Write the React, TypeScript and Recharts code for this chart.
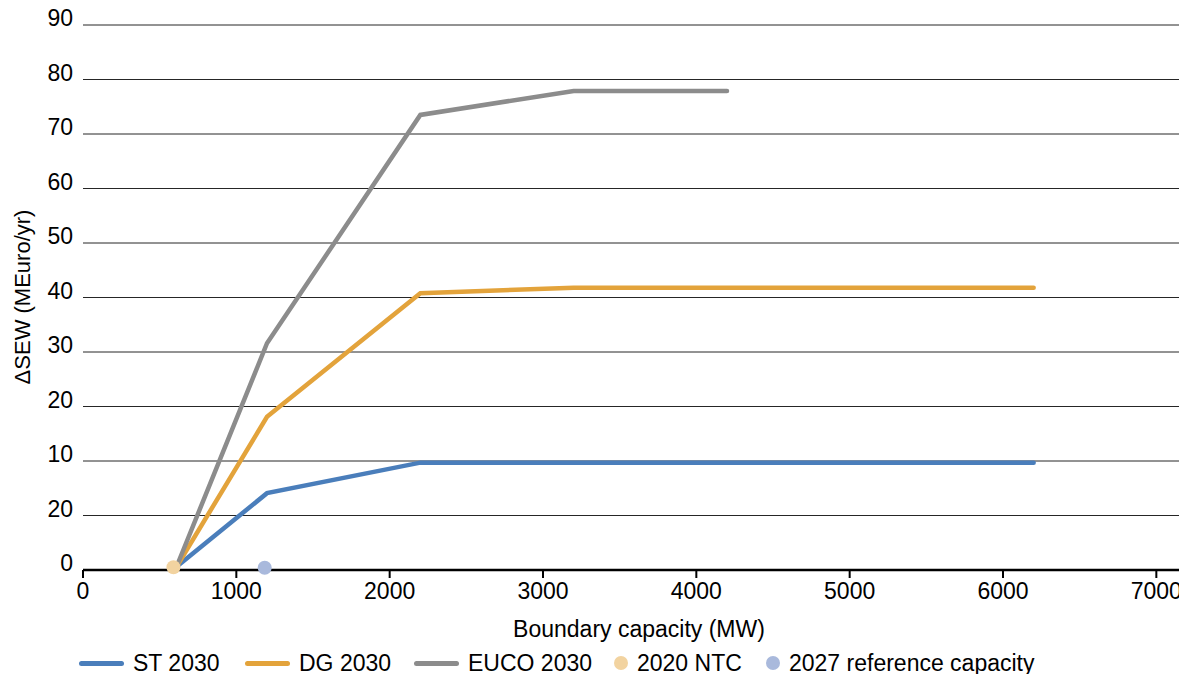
import React from 'react'
import { CartesianGrid, ComposedChart, Legend, Line, Scatter, XAxis, YAxis } from 'recharts'

// values
const capacityMW = [610, 1200, 2200, 3200, 4200, 6200]
const st2030 = [-9.4, 4.1, 9.7, 9.7, 9.7, 9.7]
const dg2030 = [-9.4, 18.1, 40.8, 41.8, 41.8, 41.8]
const euco2030 = [-9.4, 31.6, 73.5, 77.9, 77.9]

const ntcCapacity = [590]
const ntcValue = [-9.5]
const refCapacity = [1185]
const refValue = [-9.6]

const xTicks = [0, 1000, 2000, 3000, 4000, 5000, 6000, 7000]
const yTicks = [-10, 0, 10, 20, 30, 40, 50, 60, 70, 80, 90]
const yTickLabels = ['0', '20', '10', '20', '30', '40', '50', '60', '70', '80', '90']

const FONT = '"Liberation Sans", Arial, sans-serif'

const toPoints = (xs: number[], ys: number[]) => ys.map((y, i) => ({ x: xs[i], y }))

const stData = toPoints(capacityMW, st2030)
const dgData = toPoints(capacityMW, dg2030)
const eucoData = toPoints(capacityMW, euco2030)
const ntcData = toPoints(ntcCapacity, ntcValue)
const refData = toPoints(refCapacity, refValue)

const legendItems = [
  { name: 'ST 2030', color: '#4a7ebb', kind: 'line', left: 79 },
  { name: 'DG 2030', color: '#e3a33b', kind: 'line', left: 245 },
  { name: 'EUCO 2030', color: '#8c8c8c', kind: 'line', left: 414 },
  { name: '2020 NTC', color: '#f2d3a0', kind: 'dot', left: 614 },
  { name: '2027 reference capacity', color: '#a9b9dc', kind: 'dot', left: 766 },
]

const YTick = (props: any) => {
  const { x, y, index } = props
  return (
    <text x={x} y={y - 7} textAnchor="end" dominantBaseline="central" fill="#000" fontSize={23} fontFamily={FONT}>
      {yTickLabels[index]}
    </text>
  )
}

const XTick = (props: any) => {
  const { x, y, payload } = props
  return (
    <text x={x} y={y + 13} textAnchor="middle" dominantBaseline="central" fill="#000" fontSize={23} fontFamily={FONT}>
      {payload.value}
    </text>
  )
}

const CustomLegend = () => (
  <div style={{ position: 'relative', width: 1187, height: 30, fontFamily: FONT, fontSize: 23, color: '#000' }}>
    {legendItems.map((item) => (
      <div key={item.name} style={{ position: 'absolute', left: item.left, top: 0, height: 30, display: 'flex', alignItems: 'center', whiteSpace: 'nowrap' }}>
        {item.kind === 'line' ? (
          <span style={{ display: 'inline-block', width: 45, height: 5, borderRadius: 3, background: item.color, marginRight: 9 }} />
        ) : (
          <span style={{ display: 'inline-block', width: 14, height: 14, borderRadius: 7, background: item.color, marginRight: 9 }} />
        )}
        <span>{item.name}</span>
      </div>
    ))}
  </div>
)

const dotShape = (color: string) => (p: any) => <circle cx={p.cx} cy={p.cy} r={7} fill={color} />

export default function App() {
  return (
    <div style={{ margin: -8, width: 1187, height: 682, background: '#fff' }}>
      <ComposedChart width={1187} height={682} margin={{ top: 25, right: 0, left: 0, bottom: 42 }}>
        <CartesianGrid horizontal vertical={false} stroke="#262626" strokeWidth={1} />
        <XAxis
          type="number"
          dataKey="x"
          domain={[0, 7200]}
          ticks={xTicks}
          allowDataOverflow
          height={70}
          tick={XTick}
          tickSize={8}
          tickMargin={0}
          axisLine={{ stroke: '#000', strokeWidth: 2.5 }}
          tickLine={{ stroke: '#000', strokeWidth: 2 }}
          label={{
            content: (p: any) => (
              <text x={p.viewBox.x + p.viewBox.width / 2 + 4} y={629} textAnchor="middle" dominantBaseline="central" fontSize={23} fontFamily={FONT} fill="#000">
                Boundary capacity (MW)
              </text>
            ),
          }}
        />
        <YAxis
          type="number"
          dataKey="y"
          domain={[-10, 90]}
          ticks={yTicks}
          width={83}
          axisLine={false}
          tickLine={false}
          tickSize={0}
          tickMargin={10}
          tick={YTick}
          label={{
            content: () => (
              <text x={22} y={297} transform="rotate(-90, 22, 297)" textAnchor="middle" dominantBaseline="central" fontSize={22} fontFamily={FONT} fill="#000">
                ΔSEW (MEuro/yr)
              </text>
            ),
          }}
        />
        <Legend verticalAlign="middle" layout="horizontal" wrapperStyle={{ top: 648, left: 0, width: 1187 }} content={() => <CustomLegend />} />
        <Scatter name="2020 NTC" data={ntcData} dataKey="y" fill="#f2d3a0" shape={dotShape('#f2d3a0')} isAnimationActive={false} />
        <Scatter name="2027 reference capacity" data={refData} dataKey="y" fill="#a9b9dc" shape={dotShape('#a9b9dc')} isAnimationActive={false} />
        <Line name="ST 2030" data={stData} dataKey="y" type="linear" stroke="#4a7ebb" strokeWidth={4.5} strokeLinecap="round" dot={false} activeDot={false} isAnimationActive={false} />
        <Line name="DG 2030" data={dgData} dataKey="y" type="linear" stroke="#e3a33b" strokeWidth={4.5} strokeLinecap="round" dot={false} activeDot={false} isAnimationActive={false} />
        <Line name="EUCO 2030" data={eucoData} dataKey="y" type="linear" stroke="#8c8c8c" strokeWidth={4.5} strokeLinecap="round" dot={false} activeDot={false} isAnimationActive={false} />
      </ComposedChart>
    </div>
  )
}
